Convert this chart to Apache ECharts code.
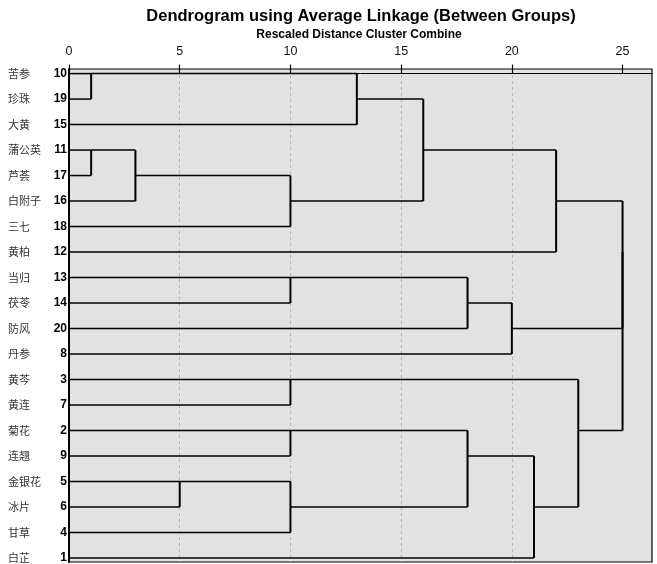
<!DOCTYPE html>
<html>
<head>
<meta charset="utf-8">
<script src="https://cdn.jsdelivr.net/npm/echarts@6/dist/echarts.min.js"></script>
<style>html,body{margin:0;padding:0;background:#fff}#c{width:657px;height:564px}</style>
</head>
<body>
<div id="c"></div>
<script>
// Leaf order (top to bottom)
const names = ['苦参','珍珠','大黄','蒲公英','芦荟','白附子','三七','黄柏','当归','茯苓','防风','丹参','黄芩','黄连','菊花','连翘','金银花','冰片','甘草','白芷'];
const caseNums = [10,19,15,11,17,16,18,12,13,14,20,8,3,7,2,9,5,6,4,1];
// Merge schedule: [child A, child B, rescaled distance]; numbers = case numbers, 'M#' = earlier merge
const mergeA = ['10','11','5','M1','13','3','2','M2','M3','M0','M9','M4','M6','M11','M12','M10','M5','M15','M17'];
const mergeB = ['19','17','6','16','14','7','9','4','18','15','M8','20','M7','8','1','12','M14','M13','M16'];
const mergeH = [1,1,5,3,10,10,10,10,10,13,16,18,18,20,21,22,23,25,25];
const xTicks = [0,5,10,15,20,25];

const rowOf = {};
caseNums.forEach((c, i) => { rowOf[String(c)] = i; });
const nodes = []; // {y, x}
function ref(k) {
  if (k[0] === 'M') return nodes[+k.slice(1)];
  return { y: rowOf[k], x: 0 };
}
const segData = [];
for (let i = 0; i < mergeH.length; i++) {
  const a = ref(mergeA[i]), b = ref(mergeB[i]), h = mergeH[i];
  segData.push([a.y, b.y, a.x, b.x, h]);
  nodes.push({ y: Math.floor((a.y + b.y) / 2), x: h });
}

const chart = echarts.init(document.getElementById('c'), null, { renderer: 'canvas' });
chart.setOption({
  animation: false,
  backgroundColor: '#fff',
  title: [
    { text: 'Dendrogram using Average Linkage (Between Groups)', left: 361, top: 8, textAlign: 'center', padding: 0,
      textStyle: { fontFamily: 'Liberation Sans', fontSize: 16.5, fontWeight: 'bold', color: '#000' } },
    { text: 'Rescaled Distance Cluster Combine', left: 359, top: 29, textAlign: 'center', padding: 0,
      textStyle: { fontFamily: 'Liberation Sans', fontSize: 12, fontWeight: 'bold', color: '#000' } }
  ],
  grid: { left: 69, top: 69, right: 5, bottom: 2, show: true, backgroundColor: '#e2e2e2', borderColor: '#000', borderWidth: 1.2 },
  xAxis: {
    type: 'value', position: 'top', min: 0, max: 26.33, interval: 5,
    axisLine: { show: true, lineStyle: { color: '#000', width: 1 } },
    axisTick: { show: true, length: 9, customValues: xTicks, lineStyle: { color: '#000', width: 1.2 } },
    axisLabel: { customValues: xTicks, margin: 11, fontFamily: 'Liberation Sans', fontSize: 12.5, color: '#111' },
    splitLine: { show: true, showMinLine: false, showMaxLine: false, lineStyle: { color: '#b4b4b4', width: 1, type: [3, 3] } }
  },
  yAxis: {
    type: 'value', inverse: true, min: -0.18, max: 19.16,
    axisLine: { show: true, lineStyle: { color: '#000', width: 2 } },
    axisTick: { show: false },
    splitLine: { show: false },
    axisLabel: {
      customValues: caseNums.map((c, i) => i),
      margin: 2,
      formatter: function (v) { const i = Math.round(v); return '{n|' + names[i] + '}{d|' + caseNums[i] + '}'; },
      rich: {
        n: { width: 43, align: 'left', fontFamily: 'Noto Sans CJK SC', fontSize: 11, color: '#333' },
        d: { width: 16, align: 'right', fontFamily: 'Liberation Sans', fontSize: 12, fontWeight: 'bold', color: '#000' }
      }
    }
  },
  series: [{
    type: 'custom',
    clip: false,
    encode: { x: [2, 3, 4], y: [0, 1] },
    data: segData,
    renderItem: function (params, api) {
      const ya = api.value(0), yb = api.value(1), xa = api.value(2), xb = api.value(3), h = api.value(4);
      const a0 = api.coord([xa, ya]), a1 = api.coord([h, ya]);
      const b0 = api.coord([xb, yb]), b1 = api.coord([h, yb]);
      const st = { stroke: '#000', lineWidth: 1.5 };
      return {
        type: 'group',
        children: [
          { type: 'line', shape: { x1: a0[0], y1: a0[1], x2: a1[0], y2: a1[1] }, style: st },
          { type: 'line', shape: { x1: b0[0], y1: b0[1], x2: b1[0], y2: b1[1] }, style: st },
          { type: 'line', shape: { x1: a1[0], y1: a1[1], x2: b1[0], y2: b1[1] }, style: { stroke: '#000', lineWidth: 2 } }
        ]
      };
    }
  }]
});
</script>
</body>
</html>
